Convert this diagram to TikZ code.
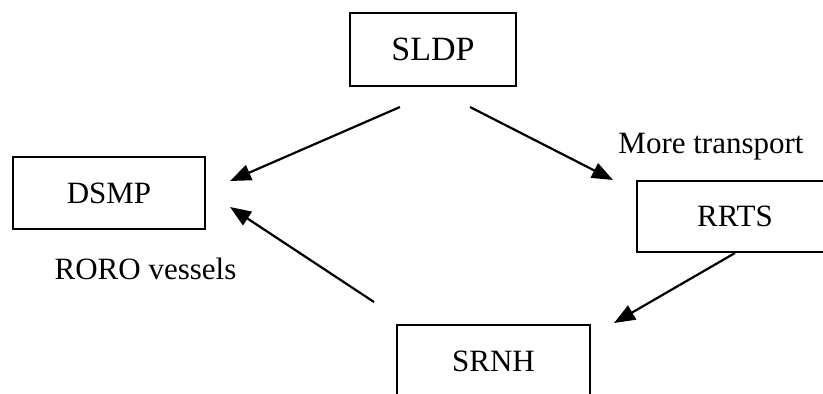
\documentclass[tikz,border=0pt]{standalone}
\usepackage{fontspec}
\setmainfont{Liberation Serif}
\usetikzlibrary{arrows.meta}
\begin{document}
\begin{tikzpicture}[x=1pt,y=-1pt,
  box/.style={draw, line width=2pt, inner sep=0pt, font=\fontsize{31}{36}\selectfont},
  lbl/.style={inner sep=0pt, font=\fontsize{31}{36}\selectfont},
  conn/.style={line width=2.2pt, -{Triangle[length=21pt,width=16pt]}}]
\useasboundingbox (0,0) rectangle (823,394);
\node[box, minimum width=166pt, minimum height=73pt, font=\fontsize{34}{40}\selectfont] (SLDP) at (433,49.5) {SLDP};
\node[box, minimum width=192pt, minimum height=72pt] (DSMP) at (109,193) {DSMP};
\node[box, minimum width=196pt, minimum height=71pt] (RRTS) at (735,216.5) {RRTS};
\node[box, minimum width=193pt, minimum height=72pt] (SRNH) at (493.5,361) {SRNH};
\node[lbl, anchor=base] (more) at (711,153) {More transport};
\node[lbl, anchor=base] (roro) at (145.5,279) {RORO vessels};
\coordinate (a1s) at (400,107);
\coordinate (a1e) at (230,181);
\coordinate (a2s) at (470,107);
\coordinate (a2e) at (613,180);
\coordinate (a3s) at (374,302);
\coordinate (a3e) at (230,207);
\coordinate (a4s) at (RRTS.south);
\coordinate (a4e) at (614,323);
\draw[conn] (a1s) -- (a1e);
\draw[conn] (a2s) -- (a2e);
\draw[conn] (a3s) -- (a3e);
\draw[conn] (a4s) -- (a4e);
\end{tikzpicture}
\end{document}
